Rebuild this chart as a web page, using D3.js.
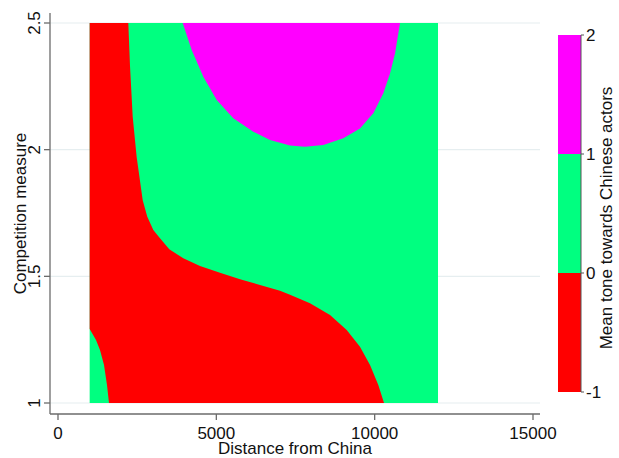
<!DOCTYPE html>
<html>
<head>
<meta charset="utf-8">
<script src="https://cdn.jsdelivr.net/npm/d3@7"></script>
<style>
  body { margin: 0; background: #fff; }
  svg { display: block; font-family: "Liberation Sans", Arial, sans-serif; }
  .tick-label { font-size: 17px; fill: #111; }
  .axis-title { font-size: 17px; fill: #111; }
</style>
</head>
<body>
<svg width="619" height="458"></svg>
<script>
// data extent of the fitted surface
const distRange = [1000, 12000];
const compRange = [1, 2.5];

// contour levels and fill colours (-1..0 red, 0..1 green, 1..2 magenta)
const levels = [-1, 0, 1, 2];
const levelColors = ["#ff0000", "#00ff80", "#ff00ff"];

// 0-level contour, main branch: [distance, competition]
const zeroContourMain = [
  [2220, 2.5], [2274, 2.33], [2359, 2.13], [2485, 1.97], [2675, 1.80],
  [2820, 1.735], [3010, 1.683], [3221, 1.650], [3515, 1.607], [3957, 1.571],
  [4484, 1.541], [5116, 1.514], [5748, 1.488], [6379, 1.466], [7011, 1.443],
  [7327, 1.427], [7958, 1.394], [8590, 1.347], [9117, 1.288], [9536, 1.222],
  [9853, 1.150], [10115, 1.071], [10295, 1.0]
];

// 0-level contour, small lower-left branch
const zeroContourCorner = [
  [1611, 1.0], [1547, 1.071], [1453, 1.150], [1326, 1.209], [1200, 1.249], [1000, 1.292]
];

// 1-level contour (magenta cap at top)
const oneContour = [
  [3938, 2.5], [4222, 2.393], [4589, 2.288], [5012, 2.196], [5536, 2.124],
  [6168, 2.071], [6695, 2.038], [7327, 2.016], [7800, 2.012], [8378, 2.018],
  [9010, 2.045], [9536, 2.084], [9957, 2.144], [10273, 2.223], [10485, 2.301],
  [10643, 2.380], [10801, 2.5]
];

const xTicks = [0, 5000, 10000, 15000];
const yTicks = [1, 1.5, 2, 2.5];

const svg = d3.select("svg");

const x = d3.scaleLinear().domain([0, 15000]).range([58, 533]);
const y = d3.scaleLinear().domain([1, 2.5]).range([403, 23]);
const plot = { left: 50, right: 540, top: 13, bottom: 414 };

// gridlines
svg.append("g")
  .selectAll("line")
  .data(yTicks)
  .join("line")
  .attr("x1", plot.left)
  .attr("x2", plot.right)
  .attr("y1", d => y(d))
  .attr("y2", d => y(d))
  .attr("stroke", "#e6eef0")
  .attr("stroke-width", 1.2);

const line = d3.line().x(d => x(d[0])).y(d => y(d[1]));

// green band covers the whole fitted area
svg.append("rect")
  .attr("x", x(distRange[0]))
  .attr("y", y(compRange[1]))
  .attr("width", x(distRange[1]) - x(distRange[0]))
  .attr("height", y(compRange[0]) - y(compRange[1]))
  .attr("fill", levelColors[1]);

// red region: left edge + top edge + main contour + bottom edge + corner contour
const redPoly = [[distRange[0], compRange[1]]]
  .concat(zeroContourMain)
  .concat(zeroContourCorner);
svg.append("path")
  .attr("d", line(redPoly) + "Z")
  .attr("fill", levelColors[0]);

// magenta cap
svg.append("path")
  .attr("d", line(oneContour) + "Z")
  .attr("fill", levelColors[2]);

// axes
const axisColor = "#6b6b6b";
svg.append("line")
  .attr("x1", plot.left).attr("x2", plot.left)
  .attr("y1", plot.top).attr("y2", plot.bottom)
  .attr("stroke", axisColor).attr("stroke-width", 1.3);
svg.append("line")
  .attr("x1", plot.left).attr("x2", plot.right)
  .attr("y1", plot.bottom).attr("y2", plot.bottom)
  .attr("stroke", axisColor).attr("stroke-width", 1.3);

svg.append("g").selectAll("line")
  .data(yTicks).join("line")
  .attr("x1", plot.left - 6).attr("x2", plot.left)
  .attr("y1", d => y(d)).attr("y2", d => y(d))
  .attr("stroke", axisColor).attr("stroke-width", 1.3);

svg.append("g").selectAll("text")
  .data(yTicks).join("text")
  .attr("class", "tick-label")
  .attr("text-anchor", "middle")
  .attr("transform", d => `translate(40,${y(d)}) rotate(-90)`)
  .text(d => d);

svg.append("g").selectAll("line")
  .data(xTicks).join("line")
  .attr("x1", d => x(d)).attr("x2", d => x(d))
  .attr("y1", plot.bottom).attr("y2", plot.bottom + 6)
  .attr("stroke", axisColor).attr("stroke-width", 1.3);

svg.append("g").selectAll("text")
  .data(xTicks).join("text")
  .attr("class", "tick-label")
  .attr("text-anchor", "middle")
  .attr("x", d => x(d))
  .attr("y", 439)
  .text(d => d);

svg.append("text")
  .attr("class", "axis-title")
  .attr("text-anchor", "middle")
  .attr("x", (plot.left + plot.right) / 2)
  .attr("y", 454)
  .text("Distance from China");

svg.append("text")
  .attr("class", "axis-title")
  .attr("text-anchor", "middle")
  .attr("transform", `translate(26,${(plot.top + plot.bottom) / 2}) rotate(-90)`)
  .text("Competition measure");

// colour bar legend
const cb = { x: 558, w: 23 };
const cbY = d3.scaleLinear().domain([-1, 2]).range([392, 35]);

svg.append("g").selectAll("rect")
  .data(levelColors).join("rect")
  .attr("x", cb.x)
  .attr("width", cb.w)
  .attr("y", (d, i) => cbY(levels[i + 1]))
  .attr("height", (d, i) => cbY(levels[i]) - cbY(levels[i + 1]))
  .attr("fill", d => d);

svg.append("line")
  .attr("x1", cb.x + cb.w).attr("x2", cb.x + cb.w)
  .attr("y1", cbY(2)).attr("y2", cbY(-1))
  .attr("stroke", "#555").attr("stroke-width", 1);

svg.append("g").selectAll("line")
  .data(levels).join("line")
  .attr("x1", cb.x + cb.w).attr("x2", cb.x + cb.w + 3)
  .attr("y1", d => cbY(d)).attr("y2", d => cbY(d))
  .attr("stroke", "#555").attr("stroke-width", 1);

svg.append("g").selectAll("text")
  .data(levels).join("text")
  .attr("class", "tick-label")
  .attr("x", cb.x + cb.w + 5)
  .attr("y", d => cbY(d))
  .attr("dy", "0.36em")
  .text(d => d);

svg.append("text")
  .attr("class", "axis-title")
  .attr("text-anchor", "middle")
  .attr("transform", `translate(612,218) rotate(-90)`)
  .text("Mean tone towards Chinese actors");
</script>
</body>
</html>
